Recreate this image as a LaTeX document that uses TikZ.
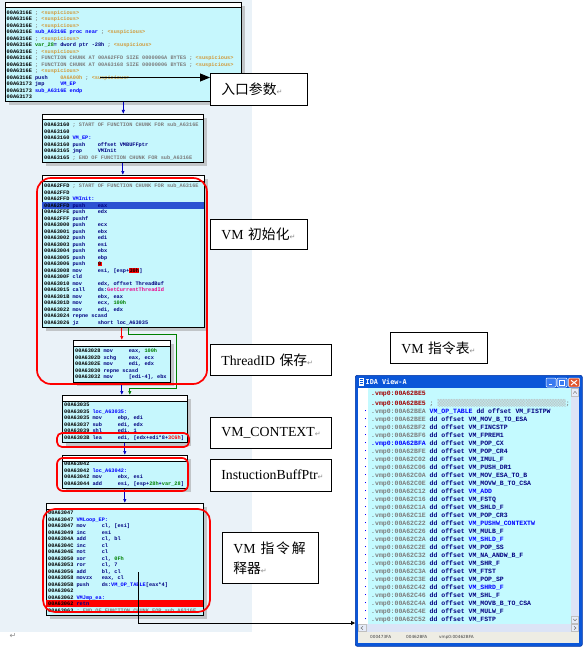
\documentclass[tikz,border=0pt]{standalone}
\usepackage{fontspec}
\setmainfont{Liberation Serif}
\newfontfamily\cjk{Noto Sans CJK SC}
\newfontfamily\asmfont{Liberation Mono}
\newfontfamily\winfont{DejaVu Sans Mono}
\newfontfamily\symfont{DejaVu Sans}
\usetikzlibrary{arrows.meta, positioning, shadows}

\definecolor{graphbg}{HTML}{EAF2F8}
\definecolor{idacyan}{HTML}{C6F7FD}
\definecolor{tabcyan}{HTML}{C4FAFF}
\definecolor{idanavy}{HTML}{000080}
\definecolor{idablue}{HTML}{0000FF}
\definecolor{idagray}{HTML}{7C7C7C}
\definecolor{idasus}{HTML}{D09A3C}
\definecolor{idagreen}{HTML}{008000}
\definecolor{idared}{HTML}{A00000}
\definecolor{selblue}{HTML}{2C52D2}
\definecolor{flowblue}{HTML}{0000C0}
\definecolor{flowgreen}{HTML}{008000}
\definecolor{xpblue}{HTML}{0A56D8}
\definecolor{xpdark}{HTML}{0032A0}
\definecolor{xpbtn}{HTML}{3A7BF0}
\definecolor{xpclose}{HTML}{E2552D}
\definecolor{scrollbg}{HTML}{DCE4F6}
\definecolor{statusbg}{HTML}{EEEDE4}

\newcommand\iaddr[1]{\strut\makebox[5.4em][l]{#1}}
\newcommand\imn[1]{\textcolor{idanavy}{\makebox[4.8em][l]{#1}}}
\newcommand\iop[1]{\textcolor{idanavy}{#1}}
\newcommand\icm[1]{\textcolor{idagray}{#1}}
\newcommand\ilab[1]{\textcolor{idablue}{#1}}
\newcommand\inum[1]{\textcolor{idagreen}{#1}}
\newcommand\isus{\icm{; }\textcolor{idasus}{<suspicious>}}
\newcommand\ihl[1]{{\setlength\fboxsep{0.3pt}\colorbox{red}{#1}}}
\newcommand\retmk{{\symfont\color{black!45}\fontsize{7}{7}\selectfont ↵}}
\newcommand\tmark{\llap{\textcolor{idablue}{\rule[1.8pt]{1.3pt}{1.3pt}}\hspace{5pt}}}
\newcommand\vrow[3][idanavy]{\strut\tmark\textcolor{idagray}{.vmp0:00A62#2} \textcolor{idanavy}{dd offset} \textcolor{#1}{#3}}

\begin{document}
\begin{tikzpicture}[x=1pt, y=-1pt,
    blk/.style={draw, line width=0.6pt, fill=idacyan, anchor=north west, inner sep=0pt,
      drop shadow={shadow xshift=4pt, shadow yshift=-4pt, fill=black!40},
      path picture={\fill[white] (path picture bounding box.north west) rectangle ([yshift=-5.5pt]path picture bounding box.north east);
        \draw[line width=0.6pt] ([yshift=-5.5pt]path picture bounding box.north west) -- ([yshift=-5.5pt]path picture bounding box.north east);}},
    code/.style={anchor=north west, inner sep=0pt, align=left, font=\asmfont\bfseries\fontsize{5.25}{6.5}\selectfont},
    tabtext/.style={anchor=north west, inner sep=0pt, align=left, font=\asmfont\bfseries\fontsize{6.5}{8}\selectfont},
    lbl/.style={draw, line width=0.7pt, fill=white, anchor=north west, inner xsep=11pt, inner ysep=2pt, align=left, font=\fontsize{13.8}{20}\selectfont},
    redring/.style={draw=red, line width=1.7pt, rounded corners=#1},
    bflow/.style={draw=flowblue, line width=0.7pt, -{Latex[length=4pt,width=3.4pt]}},
    gflow/.style={bflow, draw=flowgreen},
    rflow/.style={bflow, draw=red},
    callout/.style={draw=black, line width=0.8pt, -{Triangle[length=10pt,width=8pt]}}]

  \useasboundingbox (0,0) rectangle (587,650);
  \fill[graphbg] (0,0) rectangle (252,632);

  % graph blocks
  \node (b1) [blk, minimum width=236pt, minimum height=99pt] at (5,2) {};
  \node (b2) [blk, minimum width=161pt, minimum height=48pt] at (42,114) {};
  \node (b3) [blk, minimum width=162pt, minimum height=152pt] at (42,175) {};
  \node (b4) [blk, minimum width=97pt, minimum height=42pt] at (73,340) {};
  \node (b5) [blk, minimum width=125pt, minimum height=47pt] at (62,395) {};
  \node (b6) [blk, minimum width=125pt, minimum height=33pt] at (62,455) {};
  \node (b7) [blk, minimum width=157pt, minimum height=112pt] at (46,503) {};

  \fill[selblue] (42.3,202.3) rectangle (203.7,208.8);
  \fill[red] (46.3,600.4) rectangle (202.7,606.9);

  \node (t1) [code] at (6.5,9.5) {\iaddr{00A6316E}\isus\\
    \iaddr{00A6316E}\isus\\
    \iaddr{00A6316E}\isus\\
    \iaddr{00A6316E}\ilab{sub\_A6316E proc near} \isus\\
    \iaddr{00A6316E}\isus\\
    \iaddr{00A6316E}\inum{var\_28}\iop{= dword ptr -28h} \isus\\
    \iaddr{00A6316E}\isus\\
    \iaddr{00A6316E}\icm{; FUNCTION CHUNK AT 00A62FFD SIZE 0000006A BYTES} \isus\\
    \iaddr{00A6316E}\icm{; FUNCTION CHUNK AT 00A63168 SIZE 00000006 BYTES} \isus\\
    \iaddr{00A6316E}\isus\\
    \iaddr{00A6316E}\imn{push}\textcolor{idasus}{0A6A00h} \isus\\
    \iaddr{00A63173}\imn{jmp}\ilab{VM\_EP}\\
    \iaddr{00A63173}\ilab{sub\_A6316E endp}\\
    \iaddr{00A63173}};
  \node (t2) [code] at (44,122) {\iaddr{00A63160}\icm{; START OF FUNCTION CHUNK FOR sub\_A6316E}\\
    \iaddr{00A63160}\\
    \iaddr{00A63160}\ilab{VM\_EP:}\\
    \iaddr{00A63160}\imn{push}\iop{offset VMBUFFptr}\\
    \iaddr{00A63165}\imn{jmp}\iop{VMInit}\\
    \iaddr{00A63165}\icm{; END OF FUNCTION CHUNK FOR sub\_A6316E}};
  \node (t3) [code] at (44,183.2) {\iaddr{00A62FFD}\icm{; START OF FUNCTION CHUNK FOR sub\_A6316E}\\
    \iaddr{00A62FFD}\\
    \iaddr{00A62FFD}\ilab{VMInit:}\\
    \iaddr{00A62FFD}\imn{push}\iop{eax}\\
    \iaddr{00A62FFE}\imn{push}\iop{edx}\\
    \iaddr{00A62FFF}\imn{pushf}\\
    \iaddr{00A63000}\imn{push}\iop{ecx}\\
    \iaddr{00A63001}\imn{push}\iop{ebx}\\
    \iaddr{00A63002}\imn{push}\iop{edi}\\
    \iaddr{00A63003}\imn{push}\iop{esi}\\
    \iaddr{00A63004}\imn{push}\iop{ebx}\\
    \iaddr{00A63005}\imn{push}\iop{ebp}\\
    \iaddr{00A63006}\imn{push}\ihl{0}\\
    \iaddr{00A63008}\imn{mov}\iop{esi, [esp+}\ihl{30h}\iop{]}\\
    \iaddr{00A6300F}\imn{cld}\\
    \iaddr{00A63010}\imn{mov}\iop{edx, offset ThreadBuf}\\
    \iaddr{00A63015}\imn{call}\iop{ds:}\textcolor{magenta}{GetCurrentThreadId}\\
    \iaddr{00A6301B}\imn{mov}\iop{ebx, eax}\\
    \iaddr{00A6301D}\imn{mov}\iop{ecx, }\inum{100h}\\
    \iaddr{00A63022}\imn{mov}\iop{edi, edx}\\
    \iaddr{00A63024}\iop{repne scasd}\\
    \iaddr{00A63026}\imn{jz}\iop{short loc\_A63035}};
  \node (t4) [code] at (75,347.9) {\iaddr{00A63028}\imn{mov}\iop{eax, }\inum{100h}\\
    \iaddr{00A6302D}\imn{xchg}\iop{eax, ecx}\\
    \iaddr{00A6302E}\imn{mov}\iop{edi, edx}\\
    \iaddr{00A63030}\iop{repne scasd}\\
    \iaddr{00A63032}\imn{mov}\iop{[edi-4], ebx}};
  \node (t5) [code] at (64,402.2) {\iaddr{00A63035}\\
    \iaddr{00A63035}\ilab{loc\_A63035:}\\
    \iaddr{00A63035}\imn{mov}\iop{ebp, edi}\\
    \iaddr{00A63037}\imn{sub}\iop{edi, edx}\\
    \iaddr{00A63039}\imn{shl}\iop{edi, 1}\\
    \iaddr{00A6303B}\imn{lea}\iop{edi, [edx+edi*8+}\textcolor{red}{3C6h}\iop{]}};
  \node (t6) [code] at (64,461.2) {\iaddr{00A63042}\\
    \iaddr{00A63042}\ilab{loc\_A63042:}\\
    \iaddr{00A63042}\imn{mov}\iop{ebx, esi}\\
    \iaddr{00A63044}\imn{add}\iop{esi, [esp+}\inum{28h}\iop{+}\inum{var\_28}\iop{]}};
  \node (t7) [code] at (48,509.9) {\iaddr{00A63047}\\
    \iaddr{00A63047}\ilab{VMLoop\_EP:}\\
    \iaddr{00A63047}\imn{mov}\iop{cl, [esi]}\\
    \iaddr{00A63049}\imn{inc}\iop{esi}\\
    \iaddr{00A6304A}\imn{add}\iop{cl, bl}\\
    \iaddr{00A6304C}\imn{inc}\iop{cl}\\
    \iaddr{00A6304E}\imn{not}\iop{cl}\\
    \iaddr{00A63050}\imn{xor}\iop{cl, }\inum{0Fh}\\
    \iaddr{00A63053}\imn{ror}\iop{cl, 7}\\
    \iaddr{00A63056}\imn{add}\iop{bl, cl}\\
    \iaddr{00A63058}\imn{movzx}\iop{eax, cl}\\
    \iaddr{00A6305B}\imn{push}\iop{ds:}\ilab{VM\_OP\_TABLE}\iop{[eax*4]}\\
    \iaddr{00A63062}\\
    \iaddr{00A63062}\ilab{VMJmp\_ea:}\\
    \iaddr{00A63062}\imn{retn}\\
    \iaddr{00A63063}\icm{; END OF FUNCTION CHUNK FOR sub\_A6316E}};

  % flow between blocks
  \draw[bflow] (b1.south) -- (b1.south |- b2.north);
  \draw[bflow] (b2.south) -- (b2.south |- b3.north);
  \draw[rflow] (b4.north |- b3.south) -- (b4.north);
  \draw[gflow] ([xshift=5pt]b3.south) -- ++(0,7) -- ++(48,0) -- ++(0,54) -| ([xshift=5pt]b5.north);
  \draw[bflow] (b4.south) -- (b4.south |- b5.north);
  \draw[bflow] (b5.south) -- (b5.south |- b6.north);
  \draw[bflow] (b6.south) -- (b6.south |- b7.north);

  \draw[redring=14pt] (37,178) rectangle (207,384);
  \draw[redring=5pt] (57,433) rectangle (189,447);
  \draw[redring=6pt] (57,458) rectangle (188,491);
  \draw[redring=12pt] (43,509) rectangle (210,612);

  % IDA View-A window
  \node (win) [fill=xpblue, draw=xpdark, line width=0.6pt, rounded corners=2pt, anchor=north west, inner sep=0pt, minimum width=227pt, minimum height=271pt] at (355,375) {};
  \fill[white] (358,388) rectangle (579,643);
  \fill[tabcyan] (368,388) rectangle (571,624);
  \fill[scrollbg] (571,388) rectangle (579,624);
  \filldraw[fill=scrollbg!70!white, draw=black!25] (571.5,388.5) rectangle (578.5,396) (571.5,616) rectangle (578.5,623.5);
  \draw[black!55, line width=0.5pt] (573.2,393.5) -- (575,391.5) -- (576.8,393.5) (573.2,618.8) -- (575,620.8) -- (576.8,618.8);
  \fill[scrollbg] (358,624) rectangle (579,632);
  \filldraw[fill=scrollbg!70!white, draw=black!25] (358.5,624.5) rectangle (366,631.5) (571.5,624.5) rectangle (578.5,631.5);
  \draw[black!55, line width=0.5pt] (363,626.3) -- (361,628) -- (363,629.7) (574,626.3) -- (576,628) -- (574,629.7);
  \fill[statusbg] (358,632) rectangle (579,643);
  \fill[white] (358.5,377.5) rectangle (363.5,385.5);
  \draw[xpblue, line width=0.4pt] (359.5,379.5) -- (362.5,379.5) (359.5,381.5) -- (362.5,381.5) (359.5,383.5) -- (362.5,383.5);
  \filldraw[fill=xpbtn, draw=white, line width=0.5pt, rounded corners=1pt] (546,378) rectangle (556,387) (557,378) rectangle (567,387);
  \filldraw[fill=xpclose, draw=white, line width=0.5pt, rounded corners=1pt] (568.5,378) rectangle (579.5,387);
  \draw[white, line width=1.2pt] (548.5,384.5) -- (552,384.5);
  \draw[white, line width=0.6pt] (559.5,380.5) rectangle (564.5,385);
  \draw[white, line width=1pt] (559.5,380.8) -- (564.5,380.8);
  \draw[white, line width=1pt] (571,380.3) -- (577,385) (577,380.3) -- (571,385);
  \node (wtitle) [anchor=west, inner sep=0pt, text=white, font=\winfont\bfseries\fontsize{6.8}{7}\selectfont] at (365.5,381.5) {IDA View-A};
  \node (wstatus) [anchor=west, inner sep=0pt, text=black!75, font=\symfont\fontsize{4.2}{5}\selectfont] at (370,637.5) {\makebox[36pt][l]{000473FA}\makebox[33pt][l]{00462BFA}vmp0:00462BFA};

  \node (tbl) [tabtext] at (371,389.9) {\strut\textcolor{idared}{.vmp0:00A62BE5}\\
    \strut\textcolor{idared}{.vmp0:00A62BE5} \textcolor{idagray}{; }{\winfont\textcolor{black!28}{\scalebox{2.05}[1]{▒▒▒▒▒▒▒▒▒▒▒▒▒▒▒▒}}}\textcolor{idagray}{;}\\
    \strut\tmark\textcolor{idagray}{.vmp0:00A62BEA} \textcolor{idablue}{VM\_OP\_TABLE} \textcolor{idanavy}{dd offset VM\_FISTPW}\\
    \vrow{BEE}{VM\_MOV\_B\_TO\_ESA}\\
    \vrow{BF2}{VM\_FINCSTP}\\
    \vrow{BF6}{VM\_FPREM1}\\
    \strut\tmark\textcolor{idablue}{.vmp0:00A62BFA} \textcolor{idanavy}{dd offset VM\_POP\_CX}\\
    \vrow{BFE}{VM\_POP\_CR4}\\
    \vrow{C02}{VM\_IMUL\_F}\\
    \vrow{C06}{VM\_PUSH\_DR1}\\
    \vrow{C0A}{VM\_MOV\_ESA\_TO\_B}\\
    \vrow{C0E}{VM\_MOVW\_B\_TO\_CSA}\\
    \vrow[idablue]{C12}{VM\_ADD}\\
    \vrow{C16}{VM\_FSTQ}\\
    \vrow{C1A}{VM\_SHLD\_F}\\
    \vrow{C1E}{VM\_POP\_CR3}\\
    \vrow[idablue]{C22}{VM\_PUSHW\_CONTEXTW}\\
    \vrow{C26}{VM\_MULB\_F}\\
    \vrow[idablue]{C2A}{VM\_SHLD\_F}\\
    \vrow{C2E}{VM\_POP\_SS}\\
    \vrow{C32}{VM\_NA\_ANDW\_B\_F}\\
    \vrow{C36}{VM\_SHR\_F}\\
    \vrow{C3A}{VM\_FTST}\\
    \vrow{C3E}{VM\_POP\_SP}\\
    \vrow[idablue]{C42}{VM\_SHRD\_F}\\
    \vrow{C46}{VM\_SHL\_F}\\
    \vrow{C4A}{VM\_MOVB\_B\_TO\_CSA}\\
    \vrow{C4E}{VM\_MULW\_F}\\
    \vrow{C52}{VM\_FSTP}};

  % annotations
  \node (lblEntry) [lbl, text width=75pt, minimum height=32pt] at (210,73) {{\cjk 入口参数}\retmk};
  \node (lblInit) [lbl, text width=75pt, minimum height=30pt] at (210,219) {VM {\cjk 初始化}\retmk};
  \node (lblTid) [lbl, text width=99pt, minimum height=31pt] at (210,344) {ThreadID {\cjk 保存}\retmk};
  \node (lblCtx) [lbl, text width=99pt, minimum height=31pt] at (210,417) {VM\_CONTEXT\retmk};
  \node (lblBuf) [lbl, text width=99pt, minimum height=32pt, below=10pt of lblCtx] {InstuctionBuffPtr\retmk};
  \node (lblLoop) [lbl, text width=74pt, minimum height=51pt] at (222,532) {\mbox{VM\hspace{5pt}{\cjk 指\hspace{1.8pt}令\hspace{1.8pt}解}}\\{\cjk 释器}\retmk};
  \node (lblTable) [lbl, text width=75pt, minimum height=31pt] at (390,332) {VM {\cjk 指令表}\retmk};

  \coordinate (pushref) at (100,77.5);
  \coordinate (tabref) at (138,572);
  \coordinate (tabrow) at (0,623);
  \draw[callout] (pushref) -- (pushref -| lblEntry.west);
  \draw[callout, -{Triangle[length=4pt,width=4pt]}] (tabref) |- (win.west |- tabrow);

  \node (endmark) [inner sep=0pt, font=\symfont\fontsize{8}{8}\selectfont, text=black!45] at (13,636) {↵};
\end{tikzpicture}
\end{document}
